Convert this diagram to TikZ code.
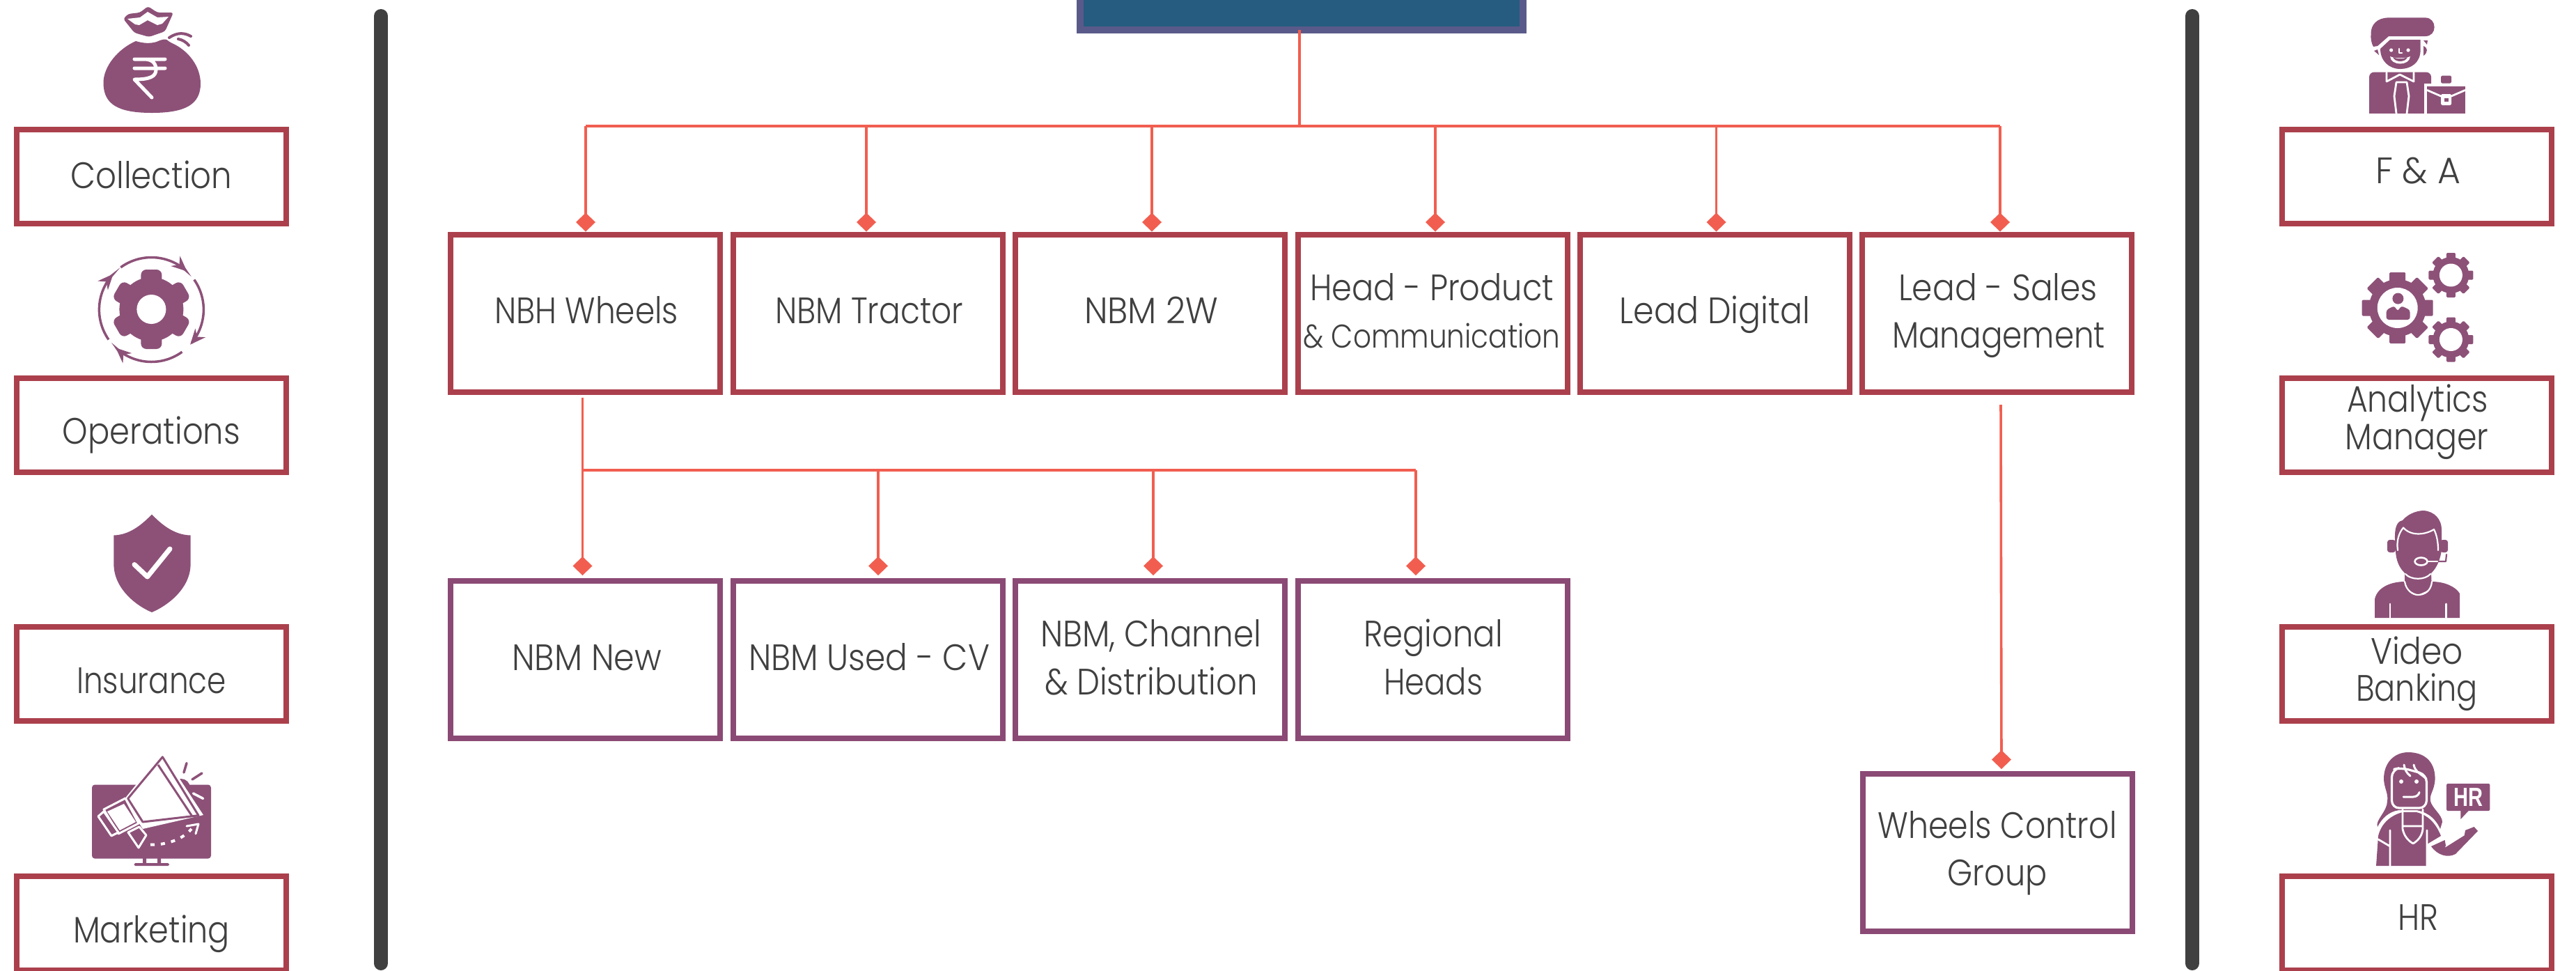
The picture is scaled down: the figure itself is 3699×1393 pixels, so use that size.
\documentclass[tikz,border=0pt]{standalone}
\usepackage{fontspec}
\usepackage{graphicx}
\usetikzlibrary{arrows.meta,calc}
\setmainfont{Poppins Light}
\newfontfamily\iconfont{Liberation Sans}
\definecolor{boxred}{HTML}{AB404C}
\definecolor{boxpurple}{HTML}{8B4A75}
\definecolor{linered}{HTML}{F15E50}
\definecolor{dark}{HTML}{404041}
\definecolor{ic}{HTML}{8D5178}
\definecolor{topedge}{HTML}{5A5A8A}
\definecolor{topfill}{HTML}{255C80}
\newlength\pxu \setlength\pxu{0.01cm}
\newcommand\lbl[4][0]{\makebox[0pt]{\hspace*{#1\pxu}\hspace*{#1\pxu}\raisebox{#2\pxu}[0pt][0pt]{\resizebox{#3\pxu}{\height}{#4}}}}
\newcommand\gearicon[8]{%
  \foreach \i in {1,...,#6}{\fill[ic,shift={(#1,#2)},rotate=\i*360/#6,rounded corners=#8] (-#7/2,0) rectangle (#7/2,#3);}
  \fill[ic] (#1,#2) circle[radius=#4];
  \fill[white] (#1,#2) circle[radius=#5];}
\tikzset{
  every node/.style={text=dark,font=\fontsize{15}{18}\selectfont},
  basebox/.style={draw,line width=8\pxu,fill=white,inner sep=0pt,minimum width=387\pxu},
  sidebox/.style={basebox,draw=boxred,minimum height=135\pxu},
  headbox/.style={basebox,draw=boxred,minimum height=226.5\pxu},
  subbox/.style={basebox,draw=boxpurple,minimum height=226\pxu},
  conn/.style={draw=linered,line width=3.6\pxu},
  bus/.style={conn,line width=4\pxu},
  drop/.style={conn,-{Diamond[length=0.27cm,width=0.28cm]}},
  bar/.style={draw=dark,line width=20\pxu,line cap=round},
  wl/.style={draw=white,line cap=round,line join=round},
  pl/.style={draw=ic,line cap=round,line join=round},
}
\begin{document}
\begin{tikzpicture}[x=0.01cm,y=-0.01cm]
\useasboundingbox (0,0) rectangle (3699,1393);
\clip (0,0) rectangle (3699,1393);
\fill[white] (0,0) rectangle (3699,1393);
% bars
\draw[bar] (547,23) -- (547,1383);
\draw[bar] (3148,23) -- (3148,1383);
% top box
\node[draw=topedge,fill=topfill,line width=10\pxu,inner sep=0pt,minimum width=636\pxu,minimum height=190\pxu] (top) at (1869,-52) {};
% side boxes
\node[sidebox] (coll) at (217.5,253) {\lbl{-17}{232}{Collection}};
\node[sidebox] (oper) at (217.5,610.5) {\lbl{-27}{255}{Operations}};
\node[sidebox] (insu) at (217.5,967.5) {\lbl{-27.5}{215}{Insurance}};
\node[sidebox] (mark) at (217.5,1325.5) {\lbl{-27.5}{225}{Marketing}};
\node[sidebox] (fa) at (3470.5,253) {\lbl[1.5]{-10}{122}{F \& A}};
\node[sidebox] (anal) at (3470.5,610.5) {\lbl[1]{19}{203}{Analytics}\lbl{-34.5}{206}{Manager}};
\node[sidebox] (vide) at (3470.5,967.5) {\lbl{14.5}{133}{Video}\lbl{-38.5}{175}{Banking}};
\node[sidebox] (hr) at (3470.5,1325.5) {\lbl[1.5]{-9.5}{58}{HR}};
% head row
\node[headbox] (nbh) at (840.5,449.75) {\lbl[1.5]{-15}{264}{NBH Wheels}};
\node[headbox] (trac) at (1246,449.75) {\lbl[2]{-15}{270}{NBM Tractor}};
\node[headbox] (twow) at (1651.5,449.75) {\lbl[1.5]{-15}{192}{NBM 2W}};
\node[headbox] (prod) at (2057.5,449.75) {\lbl[-1.5]{18.75}{350}{Head - Product}\lbl[-1.5]{-50}{369}{\fontsize{13.4}{16}\selectfont \& Communication}};
\node[headbox] (digi) at (2462.5,449.75) {\lbl{-15}{274}{Lead Digital}};
\node[headbox] (sale) at (2867,449.75) {\lbl[2]{18.75}{286}{Lead - Sales}\lbl[3]{-50}{306}{Management}};
% sub row
\node[subbox] (new) at (840.5,947) {\lbl[2]{-15}{215}{NBM New}};
\node[subbox] (used) at (1246,947) {\lbl[2]{-15}{346}{NBM Used - CV}};
\node[subbox] (chan) at (1651.5,947) {\lbl[1]{19}{317}{NBM, Channel}\lbl[1.5]{-50}{306}{\& Distribution}};
\node[subbox] (regi) at (2057.5,947) {\lbl[0.5]{19}{200}{Regional}\lbl[0.5]{-50}{142}{Heads}};
\node[subbox] (ctrl) at (2868,1224) {\lbl{21}{343}{Wheels Control}\lbl{-47}{143}{Group}};
% connectors: top level
\coordinate (topo) at ($(top.south)+(-3,-5)$);
\coordinate (busc) at ($(topo)+(0,138)$);
\coordinate (d1) at ($(nbh.north)+(0.5,0)$);
\coordinate (d2) at ($(trac.north)+(-2,0)$);
\coordinate (d3) at ($(twow.north)+(2.5,0)$);
\coordinate (d4) at ($(prod.north)+(3.5,0)$);
\coordinate (d5) at ($(digi.north)+(2,0)$);
\coordinate (d6) at ($(sale.north)+(5,0)$);
\draw[conn] (topo) -- (busc);
\draw[bus] (busc -| d1) -- (busc -| d6);
\foreach \d in {d1,d2,d3,d4,d5,d6}{\draw[drop] (busc -| \d) -- (\d);}
% connectors: sub level
\coordinate (subo) at ($(nbh.south)+(-4,3.5)$);
\coordinate (subb) at ($(subo)+(0,104.5)$);
\coordinate (e1) at ($(new.north)+(-4,-4)$);
\coordinate (e2) at ($(used.north)+(15,-4)$);
\coordinate (e3) at ($(chan.north)+(4.5,-4)$);
\coordinate (e4) at ($(regi.north)+(-24.5,-4)$);
\draw[bus] (subb) -- (subb -| e4);
\draw[drop] (subo) -- (e1);
\foreach \e in {e2,e3,e4}{\draw[drop] (subb -| \e) -- (\e);}
% connector: control
\coordinate (saleo) at ($(sale.south)+(6,14)$);
\draw[drop] (saleo) -- ($(ctrl.north)+(6,-3)$);
%% ICONS
% money bag
\fill[ic] (195,59) .. controls (170,70) and (148,95) .. (148.5,120) .. controls (149,150) and (170,162) .. (218,162) .. controls (266,162) and (288,150) .. (288,120) .. controls (288,95) and (270,72) .. (247,62) .. controls (240,60) and (242,52) .. (225,60) .. controls (215,63) and (205,62) .. (195,59) -- cycle;
\fill[ic,rounded corners=1pt] (177,27) -- (184,20) -- (201,18) -- (212.5,9) -- (226,18) -- (249,18) -- (237,45) -- (214,53) -- (193,47) -- cycle;
\fill[white] (183,27) -- (201,25) -- (212,17) -- (226,25) -- (242,24) -- (233,34) -- (226,36) -- (212,29) -- (200,36) -- (194,35) -- cycle;
\draw[pl,line width=4\pxu] (243,54) .. controls (255,46) and (265,47) .. (274,52);
\draw[pl,line width=4\pxu] (256,56) .. controls (262,57) and (268,61) .. (271,65);
\draw[wl,line width=5\pxu] (193,85) -- (237,85) (193,98) -- (237,98) (207,85) .. controls (220,85) and (224,92) .. (224,100) .. controls (224,110) and (215,114) .. (193,114) -- (218,140);
% operations gear with arrows
\gearicon{217.4}{444}{57}{46}{21}{6}{30}{2.2pt}
\foreach \s/\t in {126/47,35/-42,-54/-133,-145/-223}{
  \draw[ic,line width=3.5\pxu,-{Stealth[length=0.22cm,width=0.19cm]}] plot[domain=\s:\t,samples=25,smooth] ({217.4+75*cos(\x)},{444.5-75*sin(\x)});
}
% shield
\fill[ic] (218,738.5) .. controls (232,753) and (250,768) .. (273.6,768.5) -- (273.6,810) .. controls (273.6,845) and (240,870) .. (218,879) .. controls (196,870) and (163.4,845) .. (163.4,810) -- (163.4,768.5) .. controls (186,768) and (204,753) .. (218,738.5) -- cycle;
\draw[wl,line width=7\pxu] (193,810.5) -- (211.6,828) -- (244,788);
% marketing
\fill[ic,rounded corners=1.2pt] (132,1126.5) rectangle (303,1232.6);
\fill[ic] (205,1232) rectangle (210,1240) (226,1232) rectangle (231,1240);
\fill[ic,rounded corners=0.5pt] (192.5,1239) rectangle (243,1243);
\fill[ic] (260,1131) circle[radius=13];
\fill[white] (233,1080) -- (292,1170) -- (205,1190) -- (178,1148) -- cycle;
\draw[ic,line width=3\pxu,line join=round,fill=white] (233.4,1086.7) -- (285,1170.7) -- (205,1180) -- (183.7,1146.4) -- cycle;
\draw[ic,line width=3\pxu] (227,1098) -- (276,1172);
\draw[white,line width=3\pxu,line join=round,fill=ic] (149,1162) -- (180,1146) -- (199,1182) -- (170,1197) -- cycle;
\draw[white,line width=3\pxu,line join=round,fill=ic] (141,1172) -- (149,1165) -- (170,1195) -- (160,1200) -- cycle;
\draw[white,line width=3\pxu,line join=round,fill=ic] (184,1195) -- (200,1187) -- (210,1199) -- (199,1217) -- cycle;
\fill[white] (154,1165) -- (178,1154) -- (195,1180) -- (172,1192) -- cycle;
\draw[pl,line width=3.5\pxu] (268,1095.6) -- (264,1109) (290,1110) -- (276,1119);
\draw[wl,line width=3.5\pxu] (277.5,1139) -- (291.6,1146.4);
\draw[white,line width=4\pxu,dash pattern=on 6\pxu off 9\pxu] (216,1212.7) .. controls (240,1213) and (262,1205) .. (275,1190);
\draw[wl,line width=3\pxu] (268,1186) -- (285,1183) -- (281,1197);
% F&A person
\fill[ic] (3404.5,49) .. controls (3404,35) and (3414,25.4) .. (3430,25.4) -- (3482.6,25.4) .. controls (3491,25.4) and (3495.6,32) .. (3495.6,39) .. controls (3495.6,46) and (3491,52) .. (3482.6,52) -- (3430,52) -- (3414,66) -- (3408,67) .. controls (3405,62) and (3404,55) .. (3404.5,49) -- cycle;
\fill[ic] (3432,57) -- (3475.6,57) -- (3475.6,72) .. controls (3475.6,90) and (3462,99) .. (3446.6,99) .. controls (3431,99) and (3418,88) .. (3418,70) -- cycle;
\fill[ic] (3409,73) -- (3414,71) -- (3416,79) -- cycle;
\fill[ic] (3480,58) -- (3486,58) -- (3485,64) -- cycle;
\fill[ic] (3480,66) .. controls (3486,68) and (3487,75) .. (3480,80) -- cycle;
\fill[white] (3433.6,72) circle[radius=2.6] (3458,72) circle[radius=2.6];
\draw[wl,line width=2.6\pxu] (3445,70) -- (3445,76) -- (3449,76);
\fill[white] (3432,81) .. controls (3438,84) and (3455,84) .. (3461,81) .. controls (3460,95) and (3433,95) .. (3432,81) -- cycle;
\fill[ic] (3436,82) .. controls (3442,85) and (3451,85) .. (3457,82) .. controls (3454,90) and (3439,90) .. (3436,82) -- cycle;
\fill[ic,rounded corners=2pt] (3402,170) -- (3402,103.6) -- (3491,103.6) -- (3491,170) -- cycle;
\fill[white] (3402,163) rectangle (3492,172);
\fill[white] (3481,120) rectangle (3492,170);
\draw[wl,line width=2.8\pxu] (3427,104) -- (3427,117) -- (3446,107) -- (3466,117) -- (3466,104);
\draw[wl,line width=2.8\pxu] (3441,118) -- (3438,138) -- (3441,163) (3456,118) -- (3459,138) -- (3456,163) (3441,118) -- (3456,118);
\fill[ic] (3485.4,123.7) rectangle (3539.7,163);
\fill[ic,rounded corners=0.5pt] (3505,108.5) rectangle (3520,119.6);
\draw[wl,line width=2.8\pxu] (3485.4,129.5) -- (3505,138) (3520,138) -- (3539.7,129.5);
\fill[white,rounded corners=0.5pt] (3505,135) rectangle (3520,151);
\fill[ic] (3509.5,141) rectangle (3515.5,146);
% analytics gears
\gearicon{3442.7}{442}{51}{41}{29}{8}{23}{0.4pt}
\gearicon{3519.4}{395}{32}{26}{16.5}{8}{13}{0.4pt}
\gearicon{3519.4}{487.5}{32}{26}{16.5}{8}{13}{0.4pt}
\fill[ic] (3443.4,428.6) circle[radius=8];
\fill[ic,rounded corners=1pt] (3426.6,459) -- (3426.6,445) -- (3438,439) -- (3443,447) -- (3448,439) -- (3460.6,445) -- (3460.6,459) -- cycle;
% video banking agent
\fill[ic] (3439,775) .. controls (3438,750) and (3446,748) .. (3450,747) .. controls (3460,735) and (3475,733) .. (3480,733) .. controls (3496,734) and (3506,746) .. (3506,760) -- (3506,790) .. controls (3502,815) and (3490,830) .. (3472,830) .. controls (3452,830) and (3440,810) .. (3440,790) -- cycle;
\draw[wl,line width=2.2\pxu] (3443,790) .. controls (3441,775) and (3445,765) .. (3451,757.5) .. controls (3462,770) and (3482,768) .. (3495,760) .. controls (3499,768) and (3501,778) .. (3501,790);
\fill[ic,rounded corners=1pt] (3428,775) rectangle (3440,793);
\fill[ic,rounded corners=1pt] (3504,775) rectangle (3515,793);
\draw[pl,line width=2.2\pxu] (3500,806) -- (3512,806) -- (3513,796);
\draw[wl,line width=2.6\pxu,fill=ic] (3476.5,806) ellipse[x radius=9,y radius=5.5];
\draw[wl,line width=2.2\pxu] (3486,806) -- (3500,806);
\fill[ic] (3453,823) -- (3491,823) -- (3492,845) -- (3472,854) -- (3453,845) -- cycle;
\draw[wl,line width=2.2\pxu] (3454,824) .. controls (3462,833) and (3482,833) .. (3490,824);
\fill[ic] (3410,887) -- (3410,860) .. controls (3414,842) and (3435,835) .. (3453,835) .. controls (3455,848) and (3465,854) .. (3472,854) .. controls (3482,854) and (3491,848) .. (3492,835) .. controls (3510,835) and (3526,842) .. (3532,852) -- (3532,887) -- cycle;
\draw[wl,line width=2.2\pxu] (3453,835) .. controls (3455,848) and (3465,854) .. (3472,854) .. controls (3482,854) and (3491,848) .. (3492,835);
\draw[wl,line width=2.6\pxu] (3432,867) -- (3432,887) (3512.4,867) -- (3512.4,887);
% HR woman
\fill[ic] (3458,1080) .. controls (3480,1080) and (3496.6,1092) .. (3496.6,1118) .. controls (3496,1135) and (3488,1140) .. (3490,1150) .. controls (3492,1160) and (3507,1170) .. (3507,1180) -- (3504,1190) .. controls (3495,1170) and (3480,1165) .. (3470,1163) -- (3445,1163) .. controls (3430,1165) and (3420,1175) .. (3414,1187) .. controls (3410,1178) and (3428,1165) .. (3428,1150) .. controls (3430,1140) and (3423,1130) .. (3423,1118) .. controls (3423,1095) and (3438,1080) .. (3458,1080) -- cycle;
\draw[wl,line width=3.2\pxu,fill=ic,rounded corners=3pt] (3434.5,1160) -- (3434.5,1105) -- (3448,1102) -- (3484.4,1112) -- (3484.4,1160) -- cycle;
\draw[wl,line width=3\pxu] (3452,1098) .. controls (3453,1105) and (3456,1110) .. (3461,1114) (3466,1098) .. controls (3468,1108) and (3475,1110) .. (3484,1118);
\fill[white] (3448,1122) circle[radius=3] (3470,1122) circle[radius=3];
\draw[wl,line width=3\pxu] (3451,1144) -- (3465,1144) .. controls (3470,1144) and (3473,1141) .. (3474,1137.5);
\fill[ic] (3412,1243) -- (3415,1200) .. controls (3420,1180) and (3435,1170) .. (3450,1166) -- (3470,1166) .. controls (3485,1170) and (3497,1180) .. (3505,1200) -- (3485,1212) -- (3485,1243) -- cycle;
\draw[wl,line width=2.8\pxu] (3450,1162) -- (3450,1190) .. controls (3452,1200) and (3458,1207) .. (3465,1211) .. controls (3472,1207) and (3478,1200) .. (3479,1190) -- (3479,1162) (3450,1186) -- (3479,1186);
\draw[wl,line width=2.8\pxu] (3432,1243) -- (3432,1192) (3485,1243) -- (3485,1192) (3415,1205) -- (3432,1215);
\fill[ic] (3491,1215) -- (3510.6,1206) -- (3512,1214) -- (3510.6,1217) -- (3538.7,1199.4) -- (3540,1192) -- (3552.6,1187) -- (3558,1193) -- (3526,1226) .. controls (3515,1232) and (3500,1228) .. (3491,1215) -- cycle;
\fill[ic,rounded corners=0.6pt] (3513,1125) rectangle (3575.4,1164);
\fill[ic] (3533.4,1163) -- (3533.4,1176) -- (3545.6,1163) -- cycle;
\node[inner sep=0pt,text=white,font=\iconfont\bfseries\fontsize{10.7}{12}\selectfont] (hrtag) at (3544,1144.5) {\resizebox{42\pxu}{\height}{HR}};
\end{tikzpicture}
\end{document}
